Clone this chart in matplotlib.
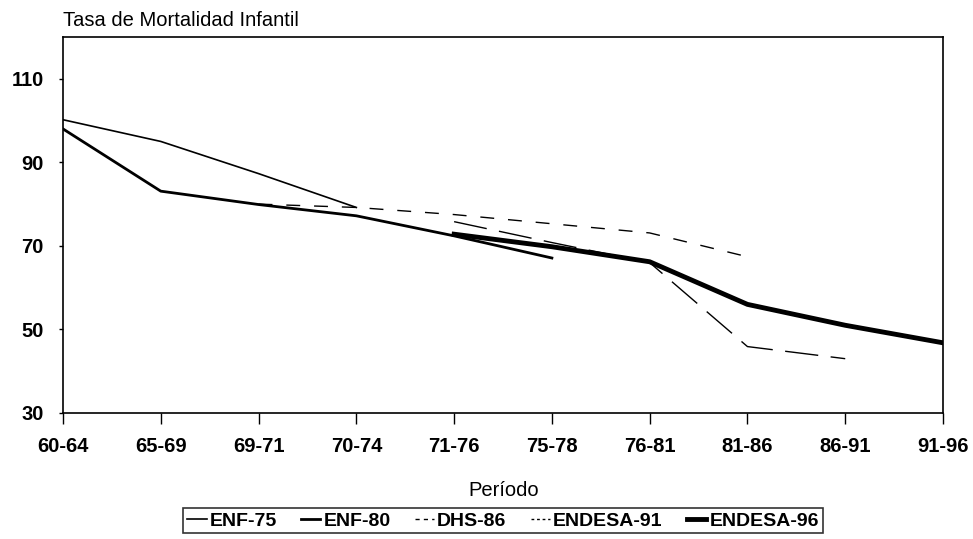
import numpy as np
import matplotlib
matplotlib.use("Agg")
import matplotlib.pyplot as plt

nan = np.nan

periods = ["60-64", "65-69", "69-71", "70-74", "71-76",
           "75-78", "76-81", "81-86", "86-91", "91-96"]
enf75 = [100.2, 95.0, 87.3, 79.2, nan, nan, nan, nan, nan, nan]
enf80 = [98.0, 83.1, 79.9, 77.2, 72.4, 67.1, nan, nan, nan, nan]
dhs86 = [nan, nan, nan, nan, 75.8, 70.8, 66.0, 45.9, 43.0, nan]
endesa91 = [nan, nan, 80.0, 79.2, 77.5, 75.3, 73.1, 67.4, nan, nan]
endesa96 = [nan, nan, nan, nan, 72.8, 69.8, 66.2, 56.0, 51.0, 46.8]
yticks = [30, 50, 70, 90, 110]

plt.rcParams["font.family"] = ["Liberation Sans", "DejaVu Sans"]

fig = plt.figure(figsize=(9.73, 5.39), dpi=100)
ax = fig.add_axes([63 / 973, 1 - 413 / 539, 880 / 973, 376 / 539])

x = np.arange(len(periods))
ax.plot(x, enf75, color="black", lw=1.2, label="ENF-75")
ax.plot(x, enf80, color="black", lw=2.0, label="ENF-80")
ax.plot(x, dhs86, color="black", lw=1.0, linestyle=(0, (24, 9)), label="DHS-86")
ax.plot(x, endesa91, color="black", lw=1.0, linestyle=(0, (10, 10)), label="ENDESA-91")
ax.plot(x, endesa96, color="black", lw=3.5, label="ENDESA-96")

ax.set_xlim(0, len(periods) - 1)
ax.set_ylim(30, 120)
ax.set_xticks(x)
ax.set_xticklabels(periods, fontsize=14.5, fontweight="bold")
ax.set_yticks(yticks)
ax.set_yticklabels([str(v) for v in yticks], fontsize=14.5, fontweight="bold")
ax.tick_params(axis="x", direction="out", length=8, width=1, pad=9)
ax.tick_params(axis="y", direction="out", length=3, width=1, pad=11)
for sp in ax.spines.values():
    sp.set_linewidth(1.2)

fig.text(63 / 973, 1 - 20 / 539, "Tasa de Mortalidad Infantil",
         fontsize=14.5, ha="left", va="center")
fig.text(504 / 973, 1 - 490 / 539, "Período", fontsize=14.5,
         ha="center", va="center")

leg = fig.legend(loc="upper center", bbox_to_anchor=(503 / 973, 1 - 508 / 539),
                 ncol=5, frameon=True, fancybox=False, handlelength=1.0,
                 handletextpad=0.15, columnspacing=1.25, borderpad=0.2,
                 borderaxespad=0, prop={"size": 14, "weight": "bold"})
leg.get_frame().set_edgecolor("black")
leg.get_frame().set_linewidth(1.2)
# shorter dash patterns so the short legend handles still read as dashed
leg.get_lines()[2].set_linestyle((0, (3, 3)))
leg.get_lines()[3].set_linestyle((0, (2, 2)))

fig.savefig("out.png", dpi=100)
